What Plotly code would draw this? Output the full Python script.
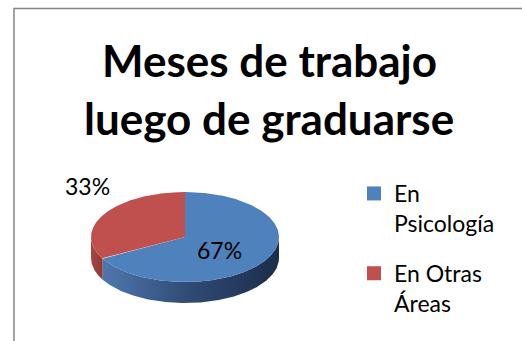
import numpy as np
import plotly.graph_objects as go

# --- data -------------------------------------------------------------
labels = ["En Psicología", "En Otras Áreas"]
legend_names = ["En<br>Psicología", "En Otras<br>Áreas"]
values = [67, 33]

# --- styling ----------------------------------------------------------
top_colors = ["#4f81bd", "#c0504d"]
side_scales = [
    [[0, "#4f77ae"], [0.5, "#2f4a74"], [1, "#1c2d4b"]],
    [[0, "#a84543"], [1, "#8e3836"]],
]
FONT = "Lato"
W, H = 522, 341
cx, cy = 185, 237      # centre of the pie's top face (px)
rx, ry = 94, 45        # ellipse radii of the tilted disc
depth = 21             # thickness of the disc
label_pos = [(219, 250), (87, 186)]

total = sum(values)
fracs = [v / total for v in values]
bounds = np.concatenate([[0.0], np.cumsum(fracs)])


def angle(f):
    # slices run clockwise starting at 12 o'clock
    return np.pi / 2 - 2 * np.pi * f


def ellipse(t, dy=0.0):
    return cx + rx * np.cos(t), cy - ry * np.sin(t) + dy


fig = go.Figure()

# side walls (front half of the disc only)
for i in range(len(values)):
    t = np.linspace(angle(bounds[i]), angle(bounds[i + 1]), 400)
    t = t[np.sin(t) <= 0]
    if len(t) < 2:
        continue
    xs, ys = ellipse(t)
    xb, yb = ellipse(t[::-1], depth)
    fig.add_trace(go.Scatter(
        x=np.concatenate([xs, xb]), y=np.concatenate([ys, yb]),
        mode="lines", fill="toself", line=dict(width=0),
        fillgradient=dict(type="horizontal", colorscale=side_scales[i]),
        showlegend=False, hoverinfo="skip"))

# top faces of the slices
for i in range(len(values)):
    t = np.linspace(angle(bounds[i]), angle(bounds[i + 1]), 400)
    xs, ys = ellipse(t)
    fig.add_trace(go.Scatter(
        x=np.concatenate([[cx], xs, [cx]]), y=np.concatenate([[cy], ys, [cy]]),
        mode="lines", fill="toself", fillcolor=top_colors[i],
        line=dict(width=0), showlegend=False, name=labels[i],
        hoverinfo="name"))

# legend entries
for i in range(len(values)):
    fig.add_trace(go.Scatter(
        x=[None], y=[None], mode="markers", name=legend_names[i],
        legendgroup=labels[i],
        marker=dict(symbol="square", size=14, color=top_colors[i])))

# percentage labels
for i, v in enumerate(values):
    px, py = label_pos[i]
    fig.add_annotation(x=px, y=py, xref="x", yref="y", showarrow=False,
                       text=f"{v / total:.0%}",
                       font=dict(family=FONT, size=23, color="#000000"))

# title, one annotation per line
for txt, yy in [("Meses de trabajo", 60), ("luego de graduarse", 118)]:
    fig.add_annotation(x=269, y=yy, xref="x", yref="y", showarrow=False,
                       text=f"<b>{txt}</b>",
                       font=dict(family=FONT, size=44, color="#000000"))

# chart frame
fig.add_shape(type="rect", xref="x", yref="y", x0=14, y0=8.5, x1=540, y1=360,
              line=dict(color="#878787", width=1.5), layer="below")

fig.update_layout(
    width=W, height=H, margin=dict(l=0, r=0, t=0, b=0),
    paper_bgcolor="white", plot_bgcolor="white",
    xaxis=dict(range=[0, W], visible=False, fixedrange=True),
    yaxis=dict(range=[H, 0], visible=False, fixedrange=True),
    showlegend=True,
    legend=dict(x=354 / W, y=1 - 172 / H, xanchor="left", yanchor="top",
                font=dict(family=FONT, size=23, color="#000000"),
                valign="top", tracegroupgap=17, bgcolor="rgba(0,0,0,0)"),
)

fig.write_html("out.html")
